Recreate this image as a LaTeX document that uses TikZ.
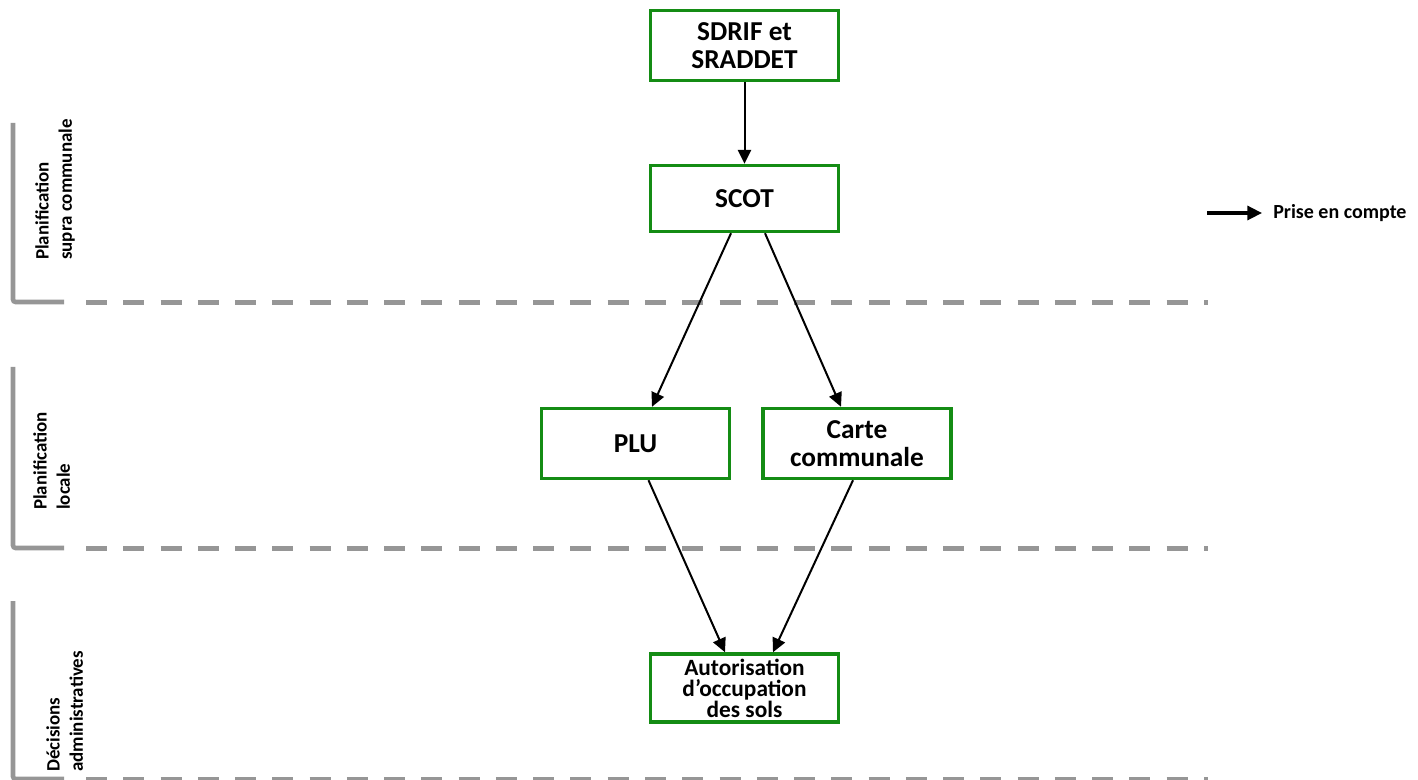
\documentclass[tikz,border=0pt]{standalone}
\usepackage{fontspec}
\setmainfont{Carlito}
\usetikzlibrary{arrows.meta,calc}
\definecolor{boxgreen}{RGB}{20,140,20}
\definecolor{sepgray}{RGB}{150,150,150}
\begin{document}
\begin{tikzpicture}[x=0.75pt,y=-0.75pt,
 box/.style={draw=boxgreen,line width=2.6pt,fill=white,minimum width=141pt,minimum height=52.5pt,inner sep=0pt,align=center,font=\bfseries\fontsize{20.5}{21}\selectfont},
 link/.style={line width=1.5pt,-{Triangle[length=10.5pt,width=10pt]}},
 sep/.style={draw=sepgray,line width=3.75pt,dash pattern=on 15.75pt off 12.2pt},
 bracket/.style={draw=sepgray,line width=3.5pt,rounded corners=2pt},
 lbl/.style={rotate=90,anchor=north west,inner sep=0pt,align=left,font=\bfseries\fontsize{14.2}{17.5}\selectfont}
]
\useasboundingbox (0,0) rectangle (1418,780);

% separators and brackets
\coordinate (b1t) at (13,123); \coordinate (b1e) at (64,302);
\coordinate (b2t) at (13,367); \coordinate (b2e) at (64,548);
\coordinate (b3t) at (13,601); \coordinate (b3e) at (64,779);
\draw[bracket] (b1t) |- (b1e);
\draw[bracket] (b2t) |- (b2e);
\draw[bracket] (b3t) |- (b3e);
\coordinate (d1s) at (86,302.5); \coordinate (d1e) at (1208,302.5);
\coordinate (d2s) at (86,548); \coordinate (d2e) at (1208,548);
\coordinate (d3s) at (86,779); \coordinate (d3e) at (1208,779);
\draw[sep] (d1s) -- (d1e);
\draw[sep] (d2s) -- (d2e);
\draw[sep] (d3s) -- (d3e);

% side labels
\node[lbl] (l1) at (35,260) {Planification\\supra communale};
\node[lbl] (l2) at (33,510) {Planification\\locale};
\node[lbl] (l3) at (46,772) {Décisions\\administratives};

% boxes
\node[box] (sdrif) at (744.5,45.5) {SDRIF et\\SRADDET};
\node[box,minimum height=49.5pt] (scot) at (744.5,198.5) {SCOT};
\node[box] (plu) at (635.5,443.5) {PLU};
\node[box] (carte) at (857,443.5) {Carte\\communale};
\node[box,minimum height=51pt,font=\bfseries\fontsize{17.5}{15.7}\selectfont] (auto) at (744.5,688) {Autorisation\\d’occupation\\des sols};

% connectors
\draw[link] (sdrif.south) -- (scot.north);
\draw[link] ($(scot.south)+(-13.5,0)$) -- ($(plu.north)+(16.5,0)$);
\draw[link] ($(scot.south)+(20.5,0)$) -- ($(carte.north)+(-16,0)$);
\draw[link] ($(plu.south)+(13,0)$) -- ($(auto.north)+(-19.5,0)$);
\draw[link] ($(carte.south)+(-4,0)$) -- ($(auto.north)+(28.5,0)$);

% legend
\coordinate (lgs) at (1207,213); \coordinate (lge) at (1262,213);
\draw[line width=2.4pt,-{Triangle[length=11pt,width=10.5pt]}] (lgs) -- (lge);
\node[anchor=west,inner sep=0pt,font=\bfseries\fontsize{15}{18}\selectfont] (lgt) at (1273,213) {Prise en compte};
\end{tikzpicture}
\end{document}
